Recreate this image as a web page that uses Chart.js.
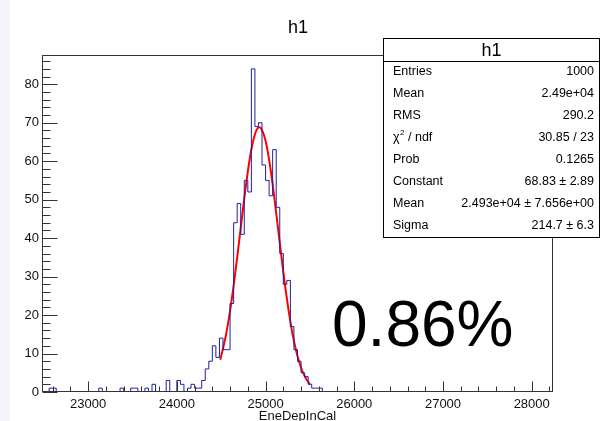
<!DOCTYPE html>
<html>
<head>
<meta charset="utf-8">
<script src="https://cdn.jsdelivr.net/npm/chart.js@4/dist/chart.umd.min.js"></script>
<style>
  html, body { margin: 0; padding: 0; background: #f4f5fb; }
  #wrap { width: 602px; height: 421px; }
</style>
</head>
<body>
<div id="wrap"><canvas id="h1Chart" width="602" height="421"></canvas></div>
<script>
// histogram h1: EneDepInCal, 144 bins of 40 starting at 22480
const histLow = 22480;
const binWidth = 40;
const counts = [
  0, 0, 1, 1, 0, 0, 0, 0, 0, 0, 0, 0, 0, 0, 0, 0,
  1, 0, 0, 0, 0, 0, 1, 0, 0, 1, 1, 0, 0, 1, 0, 2,
  0, 0, 0, 3, 0, 0, 3, 2, 0, 1, 2, 1, 1, 3, 6, 8,
  12, 9, 14, 11, 11, 23, 44, 49, 41, 55, 52, 84, 69, 70, 59, 55,
  51, 63, 48, 36, 28, 29, 17, 11, 8, 5, 4, 2, 1, 1, 1, 0,
  0, 0, 0, 0, 0, 0, 0, 0, 0, 0, 0, 0, 0, 0, 0, 0,
  0, 0, 0, 0, 0, 0, 0, 0, 0, 0, 0, 0, 0, 0, 0, 0,
  0, 0, 0, 0, 0, 0, 0, 0, 0, 0, 0, 0, 0, 0, 0, 0,
  0, 0, 0, 0, 0, 0, 0, 0, 0, 0, 0, 0, 0, 0, 0, 0
];

// gaus fit curve
const fitX = [24490, 24550, 24600, 24650, 24700, 24750, 24800, 24850, 24900, 24930, 24950,
              25000, 25050, 25100, 25150, 25200, 25250, 25300, 25350, 25400, 25450, 25500];
const fitY = [8.4, 14.4, 21.1, 29.4, 38.8, 48.4, 57.3, 64.2, 68.2, 68.8, 68.5,
              65.3, 58.9, 50.3, 40.7, 31.2, 22.7, 15.6, 10.2, 6.3, 3.7, 2.0];

const xRange = [22480, 28240];
const yRange = [0, 87.6];
const xTicks = [23000, 24000, 25000, 26000, 27000, 28000];
const yTicks = [0, 10, 20, 30, 40, 50, 60, 70, 80];

const histTitle = 'h1';
const xTitle = 'EneDepInCal';
const bigLabel = '0.86%';
const statsLabels = ['Entries', 'Mean', 'RMS', 'chi2', 'Prob', 'Constant', 'Mean', 'Sigma'];
const statsValues = ['1000', '2.49e+04', '290.2', '30.85 / 23', '0.1265',
                     '68.83 \u00b1 2.89', '2.493e+04 \u00b1 7.656e+00', '214.7 \u00b1 6.3'];

const FONT = '"Liberation Sans", Arial, Helvetica, sans-serif';

const histPoints = counts.map((c, i) => ({ x: histLow + i * binWidth, y: c }));
histPoints.push({ x: histLow + counts.length * binWidth, y: 0 });
const fitPoints = fitX.map((x, i) => ({ x: x, y: fitY[i] }));

const pagePlugin = {
  id: 'page',
  beforeDraw(chart) {
    const ctx = chart.ctx;
    ctx.save();
    ctx.fillStyle = '#ffffff';
    ctx.fillRect(10, 0, chart.width - 10, chart.height);
    ctx.restore();
  },
  afterDatasetsDraw(chart) {
    const { ctx, chartArea: a, scales } = chart;
    const sx = scales.x, sy = scales.y;
    ctx.save();
    ctx.strokeStyle = '#333';
    ctx.lineWidth = 1;
    const L = Math.round(a.left) + 0.5, R = Math.round(a.right) - 0.5;
    const T = Math.round(a.top) + 0.5, B = Math.round(a.bottom) - 0.5;
    ctx.strokeRect(L, T, R - L, B - T);

    // x ticks: majors every 1000, 4 minors between
    ctx.beginPath();
    for (let v = 22600; v <= xRange[1]; v += 200) {
      const px = Math.round(sx.getPixelForValue(v)) + 0.5;
      const len = (v % 1000 === 0) ? 10 : 5;
      ctx.moveTo(px, B);
      ctx.lineTo(px, B - len);
    }
    // y ticks: majors every 10, minors every 2
    for (let v = 0; v <= yRange[1]; v += 2) {
      const py = Math.round(sy.getPixelForValue(v)) + 0.5;
      const len = (v % 10 === 0) ? 15 : 8;
      ctx.moveTo(L, py);
      ctx.lineTo(L + len, py);
    }
    ctx.stroke();
    ctx.restore();
  },
  afterDraw(chart) {
    const ctx = chart.ctx;
    const a = chart.chartArea;
    ctx.save();
    ctx.fillStyle = '#000';

    // title
    ctx.font = '18px ' + FONT;
    ctx.textAlign = 'center';
    ctx.textBaseline = 'alphabetic';
    ctx.fillText(histTitle, 298, 33);

    // x axis title
    ctx.font = '13px ' + FONT;
    ctx.fillStyle = '#111';
    ctx.fillText(xTitle, (a.left + a.right) / 2, 420);

    // big label
    ctx.fillStyle = '#000';
    ctx.font = '64px ' + FONT;
    ctx.textAlign = 'left';
    ctx.fillText(bigLabel, 332, 346);

    // stats box
    const bx = 383.5, by = 38.5, bw = 216, bh = 199;
    ctx.fillStyle = '#fff';
    ctx.fillRect(bx, by, bw, bh);
    ctx.strokeStyle = '#000';
    ctx.lineWidth = 1;
    ctx.strokeRect(bx, by, bw, bh);
    ctx.beginPath();
    ctx.moveTo(bx, 61.5);
    ctx.lineTo(bx + bw, 61.5);
    ctx.stroke();

    ctx.fillStyle = '#000';
    ctx.font = '18px ' + FONT;
    ctx.textAlign = 'center';
    ctx.fillText(histTitle, bx + bw / 2, 56);

    ctx.font = '12.5px ' + FONT;
    ctx.textBaseline = 'middle';
    statsLabels.forEach((lab, i) => {
      const ry = 71.5 + i * 22;
      ctx.textAlign = 'left';
      if (lab === 'chi2') {
        ctx.fillText('\u03c7', 393, ry);
        const w = ctx.measureText('\u03c7').width;
        ctx.font = '8px ' + FONT;
        ctx.fillText('2', 393 + w + 0.5, ry - 5);
        const w2 = ctx.measureText('2').width;
        ctx.font = '12.5px ' + FONT;
        ctx.fillText(' / ndf', 393 + w + w2 + 0.5, ry);
      } else {
        ctx.fillText(lab, 393, ry);
      }
      ctx.textAlign = 'right';
      ctx.fillText(statsValues[i], 594, ry);
    });
    ctx.restore();
  }
};

new Chart(document.getElementById('h1Chart').getContext('2d'), {
  type: 'line',
  data: {
    datasets: [
      {
        label: 'h1',
        data: histPoints,
        stepped: 'before',
        borderColor: '#1f1fa3',
        borderWidth: 1,
        pointRadius: 0,
        fill: false
      },
      {
        label: 'gaus',
        data: fitPoints,
        borderColor: '#ff0000',
        borderWidth: 2,
        pointRadius: 0,
        cubicInterpolationMode: 'monotone',
        fill: false
      }
    ]
  },
  options: {
    responsive: false,
    animation: false,
    events: [],
    layout: { autoPadding: false, padding: { left: 10, right: 49, top: 55, bottom: 0 } },
    plugins: {
      legend: { display: false },
      title: { display: false },
      tooltip: { enabled: false }
    },
    scales: {
      x: {
        type: 'linear',
        min: xRange[0],
        max: xRange[1],
        grid: { display: false, drawTicks: false },
        border: { display: false },
        afterBuildTicks: (scale) => { scale.ticks = xTicks.map(v => ({ value: v })); },
        afterFit: (scale) => { scale.height = 29; },
        ticks: {
          autoSkip: false,
          maxRotation: 0,
          padding: 5,
          color: '#111',
          font: { size: 13, family: FONT },
          callback: (v) => String(v)
        }
      },
      y: {
        type: 'linear',
        min: yRange[0],
        max: yRange[1],
        grid: { display: false, drawTicks: false },
        border: { display: false },
        afterBuildTicks: (scale) => { scale.ticks = yTicks.map(v => ({ value: v })); },
        afterFit: (scale) => { scale.width = 32; },
        ticks: {
          autoSkip: false,
          padding: 3,
          color: '#111',
          font: { size: 13, family: FONT },
          callback: (v) => String(v)
        }
      }
    }
  },
  plugins: [pagePlugin]
});
</script>
</body>
</html>
